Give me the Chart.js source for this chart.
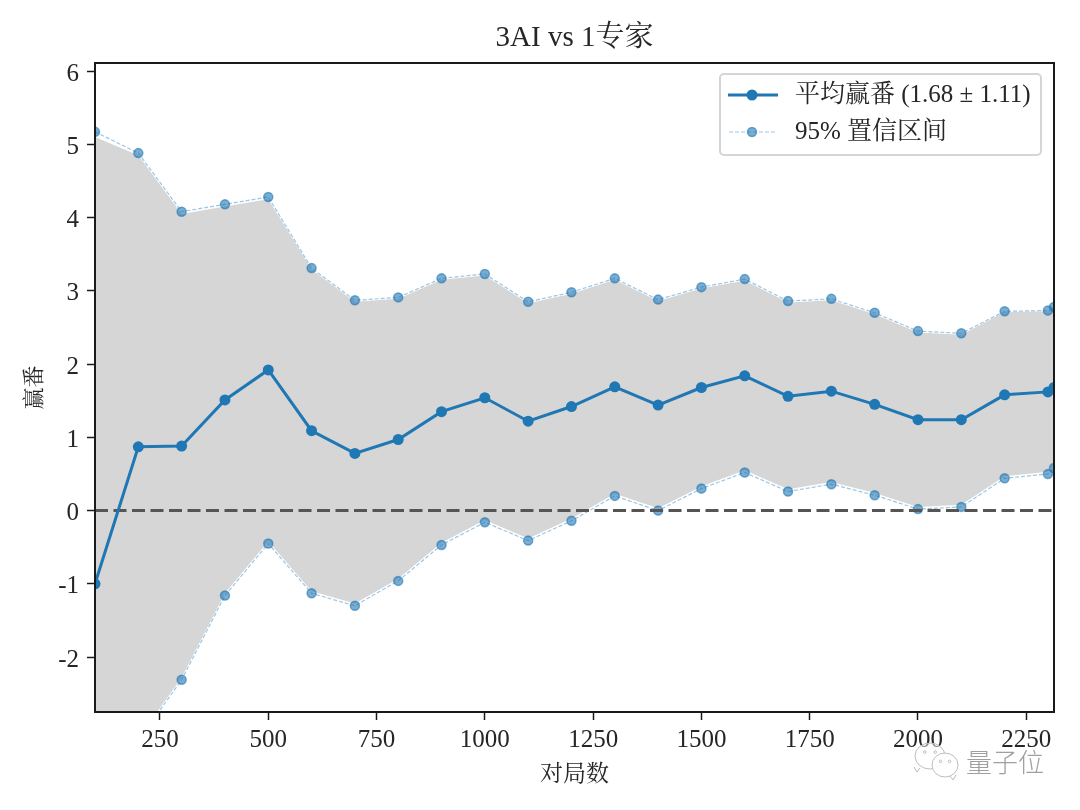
<!DOCTYPE html>
<html>
<head>
<meta charset="utf-8">
<style>
html, body { margin: 0; padding: 0; background: #fff; }
canvas { display: block; }
</style>
</head>
<body>
<canvas id="chart" width="1080" height="810"></canvas>
<script src="https://cdn.jsdelivr.net/npm/chart.js@4/dist/chart.umd.min.js"></script>
<script>
const games = [100, 200, 300, 400, 500, 600, 700, 800, 900, 1000, 1100, 1200, 1300, 1400, 1500, 1600, 1700, 1800, 1900, 2000, 2100, 2200, 2300, 2314];
const meanValues = [-1.0, 0.87, 0.88, 1.51, 1.92, 1.09, 0.78, 0.97, 1.35, 1.54, 1.22, 1.42, 1.69, 1.44, 1.68, 1.84, 1.56, 1.63, 1.45, 1.24, 1.24, 1.58, 1.62, 1.68];
const upperValues = [5.17, 4.88, 4.08, 4.18, 4.28, 3.31, 2.87, 2.91, 3.17, 3.23, 2.85, 2.98, 3.17, 2.88, 3.05, 3.16, 2.86, 2.89, 2.70, 2.45, 2.42, 2.72, 2.73, 2.78];
const lowerValues = [-7.17, -3.14, -2.31, -1.16, -0.45, -1.13, -1.30, -0.96, -0.47, -0.16, -0.41, -0.14, 0.20, 0.00, 0.30, 0.52, 0.26, 0.36, 0.21, 0.02, 0.05, 0.44, 0.50, 0.58];
// the grey band sits slightly inside the dashed lines in the original
const bandTop = [5.10, 4.85, 4.05, 4.15, 4.25, 3.29, 2.85, 2.89, 3.15, 3.21, 2.83, 2.96, 3.15, 2.86, 3.03, 3.14, 2.84, 2.87, 2.68, 2.43, 2.40, 2.71, 2.72, 2.77];
const bandBottom = [-7.14, -3.11, -2.28, -1.13, -0.42, -1.10, -1.27, -0.93, -0.44, -0.13, -0.38, -0.11, 0.23, 0.03, 0.33, 0.55, 0.29, 0.39, 0.24, 0.05, 0.08, 0.47, 0.53, 0.61];
const zeroLine = [0, 0];
const xRange = [100, 2314];
const yRange = [-2.75, 6.11];
const xTicks = [250, 500, 750, 1000, 1250, 1500, 1750, 2000, 2250];
const yTicks = [-2, -1, 0, 1, 2, 3, 4, 5, 6];
const legendLabels = ['平均赢番 (1.68 ± 1.11)', '95% 置信区间'];

const SERIF = "'Liberation Serif', 'Noto Serif CJK SC', 'Noto Sans CJK SC', serif";
const BLUE = '#1f77b4';
const PALE = 'rgba(31,119,180,0.6)';
const DASH = '#9cc6e6';
const TEXT = '#262626';

function toPoints(values) {
    return values.map((v, i) => ({ x: games[i], y: v }));
}

function drawBubble(ctx, x, y, rx, ry, tailX, tailDir) {
    ctx.beginPath();
    ctx.ellipse(x, y, rx, ry, 0, 0, Math.PI * 2);
    ctx.fill();
    ctx.stroke();
    ctx.beginPath();
    ctx.moveTo(tailX, y + ry - 1);
    ctx.lineTo(tailX + tailDir * 3, y + ry + 3);
    ctx.lineTo(tailX + tailDir * 6, y + ry - 2);
    ctx.stroke();
    [-0.35, 0.35].forEach(k => {
        ctx.beginPath();
        ctx.arc(x + rx * k, y - ry * 0.3, 1.3, 0, Math.PI * 2);
        ctx.stroke();
    });
}

const framePlugin = {
    id: 'frame',
    afterDatasetsDraw(chart) {
        const a = chart.chartArea;
        const ctx = chart.ctx;
        ctx.save();
        ctx.strokeStyle = '#1a1a1a';
        ctx.lineWidth = 2;
        ctx.strokeRect(a.left, a.top, a.right - a.left, a.bottom - a.top);
        ctx.restore();
    }
};

const legendPlugin = {
    id: 'boxLegend',
    afterDraw(chart) {
        const ctx = chart.ctx;
        ctx.save();
        ctx.strokeStyle = '#d5d5d5';
        ctx.fillStyle = 'rgba(255,255,255,0.9)';
        ctx.lineWidth = 2;
        ctx.beginPath();
        ctx.roundRect(720, 74, 321, 81, 4);
        ctx.fill();
        ctx.stroke();

        ctx.strokeStyle = BLUE;
        ctx.lineWidth = 3;
        ctx.beginPath();
        ctx.moveTo(728, 95);
        ctx.lineTo(778, 95);
        ctx.stroke();
        ctx.fillStyle = BLUE;
        ctx.beginPath();
        ctx.arc(752, 95, 5.5, 0, Math.PI * 2);
        ctx.fill();

        ctx.strokeStyle = DASH;
        ctx.lineWidth = 1.2;
        ctx.setLineDash([4, 2]);
        ctx.beginPath();
        ctx.moveTo(729, 132);
        ctx.lineTo(776, 132);
        ctx.stroke();
        ctx.setLineDash([]);
        ctx.fillStyle = PALE;
        ctx.strokeStyle = PALE;
        ctx.lineWidth = 1.5;
        ctx.beginPath();
        ctx.arc(752, 132, 4.5, 0, Math.PI * 2);
        ctx.fill();
        ctx.stroke();

        ctx.fillStyle = TEXT;
        ctx.font = '25px ' + SERIF;
        ctx.textBaseline = 'middle';
        ctx.fillText(legendLabels[0], 795, 95);
        ctx.fillText(legendLabels[1], 795, 132);

        // watermark
        ctx.fillStyle = '#a0a0a0';
        ctx.font = "300 26px 'Noto Sans CJK SC'";
        ctx.fillText('量子位', 966, 762);
        ctx.strokeStyle = '#bdbdbd';
        ctx.fillStyle = 'rgba(255,255,255,0.45)';
        ctx.lineWidth = 1;
        drawBubble(ctx, 930, 756, 15, 13, 920, -1);
        ctx.fillStyle = 'rgba(255,255,255,0.9)';
        drawBubble(ctx, 945, 765, 13, 12, 950, 1);
        ctx.restore();
    }
};

new Chart(document.getElementById('chart'), {
    type: 'line',
    plugins: [framePlugin, legendPlugin],
    data: {
        datasets: [
            {
                label: 'zero',
                data: [{ x: xRange[0], y: zeroLine[0] }, { x: xRange[1], y: zeroLine[1] }],
                borderColor: '#555555',
                borderWidth: 3,
                borderDash: [13, 5.5],
                pointRadius: 0,
                order: 2
            },
            {
                label: 'mean',
                data: toPoints(meanValues),
                borderColor: BLUE,
                borderWidth: 3,
                pointRadius: 5.5,
                pointBackgroundColor: BLUE,
                pointBorderColor: BLUE,
                pointBorderWidth: 0,
                order: 1
            },
            {
                label: 'upper',
                data: toPoints(upperValues),
                borderColor: DASH,
                borderWidth: 1.2,
                borderDash: [4, 2],
                pointRadius: 4.5,
                pointBackgroundColor: PALE,
                pointBorderColor: PALE,
                pointBorderWidth: 1.5,
                order: 3
            },
            {
                label: 'lower',
                data: toPoints(lowerValues),
                borderColor: DASH,
                borderWidth: 1.2,
                borderDash: [4, 2],
                pointRadius: 4.5,
                pointBackgroundColor: PALE,
                pointBorderColor: PALE,
                pointBorderWidth: 1.5,
                order: 4
            },
            {
                label: 'bandTop',
                data: toPoints(bandTop),
                borderWidth: 0,
                pointRadius: 0,
                backgroundColor: '#d6d6d6',
                fill: '+1',
                order: 5
            },
            {
                label: 'bandBottom',
                data: toPoints(bandBottom),
                borderWidth: 0,
                pointRadius: 0,
                order: 6
            }
        ]
    },
    options: {
        responsive: false,
        animation: false,
        devicePixelRatio: 1,
        layout: { padding: { left: 22, right: 26, top: 21, bottom: 21 } },
        plugins: {
            legend: { display: false },
            tooltip: { enabled: false },
            title: {
                display: true,
                text: '3AI vs 1专家',
                fullSize: false,
                color: TEXT,
                font: { family: SERIF, size: 29, weight: 'normal', lineHeight: 1.2 },
                padding: { top: 0, bottom: 7.2 }
            }
        },
        scales: {
            x: {
                type: 'linear',
                min: xRange[0],
                max: xRange[1],
                afterBuildTicks(scale) { scale.ticks = xTicks.map(value => ({ value })); },
                afterFit(scale) { scale.height = 77; },
                border: { display: false },
                grid: { drawOnChartArea: false, drawTicks: true, tickLength: 8, tickColor: '#1a1a1a', tickWidth: 1.5 },
                ticks: { color: TEXT, font: { family: SERIF, size: 25 }, autoSkip: false, maxRotation: 0, padding: 5, callback: value => String(value) },
                title: { display: true, text: '对局数', color: TEXT, font: { family: SERIF, size: 23 }, padding: { top: 4, bottom: 0 } }
            },
            y: {
                min: yRange[0],
                max: yRange[1],
                afterBuildTicks(scale) { scale.ticks = yTicks.map(value => ({ value })); },
                afterFit(scale) { scale.width = 73; },
                border: { display: false },
                grid: { drawOnChartArea: false, drawTicks: true, tickLength: 8, tickColor: '#1a1a1a', tickWidth: 1.5 },
                ticks: { color: TEXT, font: { family: SERIF, size: 25 }, padding: 8, labelOffset: 3 },
                title: { display: true, text: '赢番', color: TEXT, font: { family: SERIF, size: 22 }, padding: { top: 0, bottom: 0 } }
            }
        }
    }
});
</script>
</body>
</html>
